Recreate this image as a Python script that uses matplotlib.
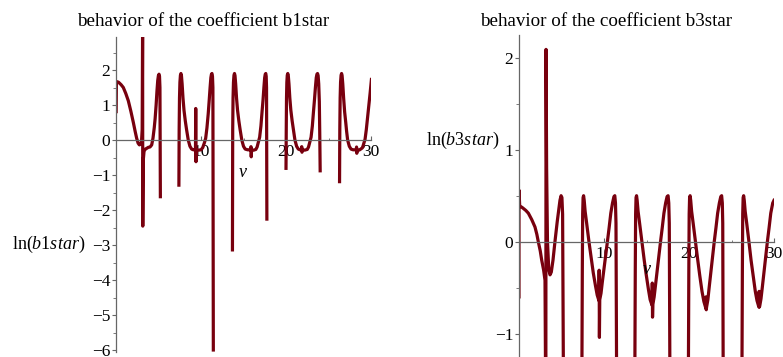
import matplotlib
matplotlib.use("Agg")
import matplotlib.pyplot as plt
from matplotlib.ticker import MultipleLocator, FixedLocator

plt.rcParams['font.family'] = ['Liberation Serif', 'DejaVu Serif']
plt.rcParams['mathtext.fontset'] = 'custom'
plt.rcParams['mathtext.rm'] = 'Liberation Serif'
plt.rcParams['mathtext.it'] = 'Liberation Serif:italic'

# ln(b1star) against v, one list per piece where the log is defined
b1_seg_a = [(0.02, 0.81), (0.05, 1.67), (0.3, 1.65), (0.6, 1.58), (0.86, 1.50), (1.15, 1.33),
            (1.45, 1.12), (1.75, 0.82), (2.04, 0.50), (2.25, 0.25), (2.43, 0.05), (2.60, -0.09),
            (2.75, -0.14), (2.88, -0.12), (3.00, -0.05), (3.08, 0.3), (3.13, 3.2), (3.15, -2.46),
            (3.20, -0.6), (3.30, -0.32), (3.45, -0.26), (3.60, -0.24), (3.80, -0.21), (4.00, -0.2),
            (4.20, -0.14), (4.35, 0.05), (4.50, 0.35), (4.60, 0.6), (4.72, 1.0), (4.82, 1.4),
            (4.91, 1.7), (4.99, 1.84), (5.06, 1.88), (5.12, 1.82), (5.17, 1.5), (5.22, -1.62)]
b1_seg_c = [(7.40, -1.29), (7.43, 0.3), (7.47, 1.2), (7.52, 1.65), (7.58, 1.85), (7.64, 1.9),
            (7.70, 1.84), (7.78, 1.6), (7.88, 1.2), (8.00, 0.85), (8.15, 0.55), (8.30, 0.3),
            (8.50, 0.0), (8.70, -0.18), (8.90, -0.26), (9.10, -0.28), (9.35, -0.28), (9.38, 0.9),
            (9.41, -0.62), (9.45, -0.28), (9.70, -0.29), (10.00, -0.28), (10.20, -0.22),
            (10.40, -0.08), (10.55, 0.05), (10.70, 0.35), (10.85, 0.75), (10.97, 1.15),
            (11.07, 1.5), (11.16, 1.78), (11.23, 1.88), (11.29, 1.9), (11.35, 1.82), (11.40, 1.5),
            (11.45, -6.0)]
b1_seg_d = [(13.70, -3.14), (13.73, 0.3), (13.77, 1.2), (13.82, 1.65), (13.88, 1.85), (13.94, 1.9),
            (14.00, 1.84), (14.08, 1.6), (14.18, 1.2), (14.30, 0.85), (14.45, 0.55), (14.60, 0.3),
            (14.80, 0.0), (15.00, -0.18), (15.20, -0.26), (15.50, -0.28), (15.85, -0.28),
            (15.88, -0.19), (15.91, -0.48), (15.95, -0.28), (16.20, -0.29), (16.45, -0.27),
            (16.60, -0.2), (16.75, -0.06), (16.90, 0.08), (17.05, 0.4), (17.18, 0.8),
            (17.30, 1.15), (17.40, 1.5), (17.49, 1.78), (17.56, 1.88), (17.62, 1.9), (17.67, 1.82),
            (17.71, 1.5), (17.75, -2.26)]
b1_seg_e = [(20.00, -0.81), (20.03, 0.3), (20.06, 1.2), (20.10, 1.65), (20.15, 1.85), (20.21, 1.9),
            (20.27, 1.84), (20.35, 1.6), (20.45, 1.2), (20.57, 0.85), (20.72, 0.55), (20.87, 0.3),
            (21.05, 0.0), (21.25, -0.18), (21.45, -0.26), (21.65, -0.28), (21.82, -0.28),
            (21.85, -0.19), (21.88, -0.35), (21.92, -0.28), (22.20, -0.29), (22.50, -0.27),
            (22.65, -0.2), (22.80, -0.06), (22.95, 0.08), (23.10, 0.4), (23.23, 0.8), (23.35, 1.15),
            (23.46, 1.5), (23.56, 1.78), (23.64, 1.88), (23.71, 1.9), (23.78, 1.84), (23.85, 1.6),
            (23.92, 1.1), (23.97, 0.2), (24.02, -0.88)]
b1_seg_f = [(26.30, -1.19), (26.33, 0.3), (26.37, 1.2), (26.42, 1.65), (26.48, 1.85), (26.54, 1.9),
            (26.60, 1.84), (26.68, 1.6), (26.78, 1.2), (26.90, 0.8), (27.03, 0.5), (27.13, 0.25),
            (27.25, 0.0), (27.45, -0.18), (27.65, -0.26), (27.90, -0.28), (28.27, -0.28),
            (28.30, -0.2), (28.33, -0.38), (28.37, -0.28), (28.60, -0.29), (28.85, -0.25),
            (29.00, -0.22), (29.15, -0.1), (29.30, 0.02), (29.45, 0.3), (29.60, 0.65), (29.75, 1.0),
            (29.90, 1.35), (30.05, 1.73)]

# ln(b3star) against v
b3_seg_a = [(0.0, -0.6), (0.0, 0.56), (0.08, 0.39), (0.4, 0.37), (0.8, 0.34), (1.1, 0.31),
            (1.5, 0.24), (1.88, 0.16), (2.1, 0.08), (2.27, 0.0), (2.5, -0.1), (2.67, -0.2),
            (2.9, -0.31), (3.06, -0.42), (3.12, -1.4)]
b3_seg_b = [(3.16, -1.4), (3.18, 2.09), (3.25, 0.8), (3.35, 0.0), (3.5, -0.3), (3.65, -0.36),
            (3.8, -0.33), (4.0, -0.2), (4.23, 0.0), (4.5, 0.22), (4.82, 0.45), (4.95, 0.5),
            (5.05, 0.48), (5.13, 0.3), (5.22, -1.4)]
b3_seg_c = [(7.40, -1.4), (7.45, -0.3), (7.49, 0.3), (7.54, 0.48), (7.60, 0.5), (7.67, 0.45),
            (7.78, 0.33), (7.96, 0.2), (8.23, 0.0), (8.50, -0.18), (8.74, -0.34), (9.00, -0.48),
            (9.20, -0.58), (9.40, -0.64), (9.43, -0.31), (9.46, -1.04), (9.50, -0.63), (9.65, -0.56),
            (9.80, -0.44), (10.10, -0.22), (10.40, 0.0), (10.60, 0.15), (10.80, 0.31), (11.00, 0.42),
            (11.17, 0.49), (11.27, 0.5), (11.35, 0.42), (11.41, 0.2), (11.48, -1.4)]
b3_seg_d = [(13.63, -1.4), (13.68, -0.3), (13.72, 0.3), (13.77, 0.48), (13.83, 0.5), (13.90, 0.45),
            (14.01, 0.33), (14.19, 0.2), (14.46, 0.0), (14.73, -0.2), (14.97, -0.36), (15.23, -0.52),
            (15.43, -0.63), (15.65, -0.69), (15.68, -0.45), (15.71, -0.82), (15.75, -0.68),
            (15.9, -0.6), (16.05, -0.48), (16.35, -0.24), (16.65, 0.0), (16.85, 0.15), (17.05, 0.31),
            (17.25, 0.42), (17.42, 0.49), (17.54, 0.5), (17.62, 0.42), (17.68, 0.2), (17.75, -1.4)]
b3_seg_e = [(19.93, -1.4), (19.98, -0.3), (20.02, 0.3), (20.07, 0.48), (20.13, 0.5), (20.20, 0.45),
            (20.31, 0.33), (20.49, 0.2), (20.76, 0.0), (21.03, -0.2), (21.27, -0.37), (21.53, -0.54),
            (21.75, -0.65), (21.97, -0.72), (22.0, -0.6), (22.03, -0.74), (22.07, -0.71),
            (22.22, -0.63), (22.37, -0.5), (22.67, -0.25), (22.97, 0.0), (23.17, 0.15),
            (23.37, 0.31), (23.57, 0.42), (23.74, 0.49), (23.84, 0.5), (23.92, 0.42), (23.97, 0.2),
            (24.02, -1.4)]
b3_seg_f = [(26.23, -1.4), (26.28, -0.3), (26.32, 0.3), (26.37, 0.48), (26.43, 0.5), (26.50, 0.45),
            (26.61, 0.33), (26.79, 0.2), (27.05, 0.0), (27.3, -0.2), (27.55, -0.37), (27.8, -0.54),
            (28.0, -0.64), (28.22, -0.71), (28.25, -0.54), (28.28, -0.71), (28.32, -0.7),
            (28.47, -0.62), (28.62, -0.5), (28.92, -0.25), (29.22, 0.0), (29.42, 0.15),
            (29.62, 0.31), (29.85, 0.42), (30.0, 0.45)]

b1_segments = [b1_seg_a, b1_seg_c, b1_seg_d, b1_seg_e, b1_seg_f]
b3_segments = [b3_seg_a, b3_seg_b, b3_seg_c, b3_seg_d, b3_seg_e, b3_seg_f]

x_ticks = [10, 20, 30]
b1_yticks = [-6, -5, -4, -3, -2, -1, 0, 1, 2]
b3_yticks = [-1, 0, 1, 2]

line_color = '#78000E'
axis_color = '0.4'
W, H = 783, 357


def style_axes(ax, yticks):
    for side in ['top', 'right']:
        ax.spines[side].set_visible(False)
    ax.spines['left'].set_position(('data', 0))
    ax.spines['bottom'].set_position(('data', 0))
    for side in ['left', 'bottom']:
        ax.spines[side].set_color(axis_color)
        ax.spines[side].set_linewidth(0.9)
    ax.xaxis.set_major_locator(FixedLocator(x_ticks))
    ax.xaxis.set_minor_locator(FixedLocator([5, 15, 25]))
    ax.yaxis.set_major_locator(FixedLocator(yticks))
    ax.yaxis.set_minor_locator(MultipleLocator(0.5))
    ax.tick_params(axis='x', which='both', direction='in', colors=axis_color,
                   labelcolor='black', labelsize=12.5, pad=3)
    ax.tick_params(axis='x', which='major', length=3)
    ax.tick_params(axis='x', which='minor', length=1.5)
    ax.tick_params(axis='y', which='both', direction='out', colors=axis_color,
                   labelcolor='black', labelsize=12.5, pad=1)
    ax.tick_params(axis='y', which='major', length=3)
    ax.tick_params(axis='y', which='minor', length=2)
    ax.patch.set_alpha(0)


fig = plt.figure(figsize=(W / 100, H / 100), dpi=100)

# left panel: x 116..371 px, y 2.95 at 36.75 px, -6.05 at 351.75 px
ax1 = fig.add_axes([116 / W, (H - 351.75) / H, 255 / W, (351.75 - 36.75) / H])
for seg in b1_segments:
    ax1.plot([p[0] for p in seg], [p[1] for p in seg], color=line_color, lw=2.3)
ax1.set_xlim(0, 30)
ax1.set_ylim(-6.05, 2.95)
style_axes(ax1, b1_yticks)

# right panel: x 519..774 px, y 2.25 at 34.7 px, -1.25 at 356.7 px
ax2 = fig.add_axes([519 / W, (H - 356.7) / H, 255 / W, (356.7 - 34.7) / H])
for seg in b3_segments:
    ax2.plot([p[0] for p in seg], [p[1] for p in seg], color=line_color, lw=2.3)
ax2.set_xlim(0, 30)
ax2.set_ylim(-1.25, 2.25)
style_axes(ax2, b3_yticks)

fig.text(203 / W, 1 - 26 / H, 'behavior of the coefficient b1star', ha='center',
         va='baseline', fontsize=13.7)
fig.text(606 / W, 1 - 26 / H, 'behavior of the coefficient b3star', ha='center',
         va='baseline', fontsize=13.7)
fig.text(85 / W, 1 - 244 / H, r'ln($\mathit{b1star}$)', ha='right', va='center', fontsize=13)
fig.text(499 / W, 1 - 140 / H, r'ln($\mathit{b3star}$)', ha='right', va='center', fontsize=13)
fig.text(243 / W, 1 - 172 / H, 'v', ha='center', va='center', fontsize=13, style='italic')
fig.text(647 / W, 1 - 270 / H, 'v', ha='center', va='center', fontsize=13, style='italic')

fig.savefig('out.png', dpi=100)
